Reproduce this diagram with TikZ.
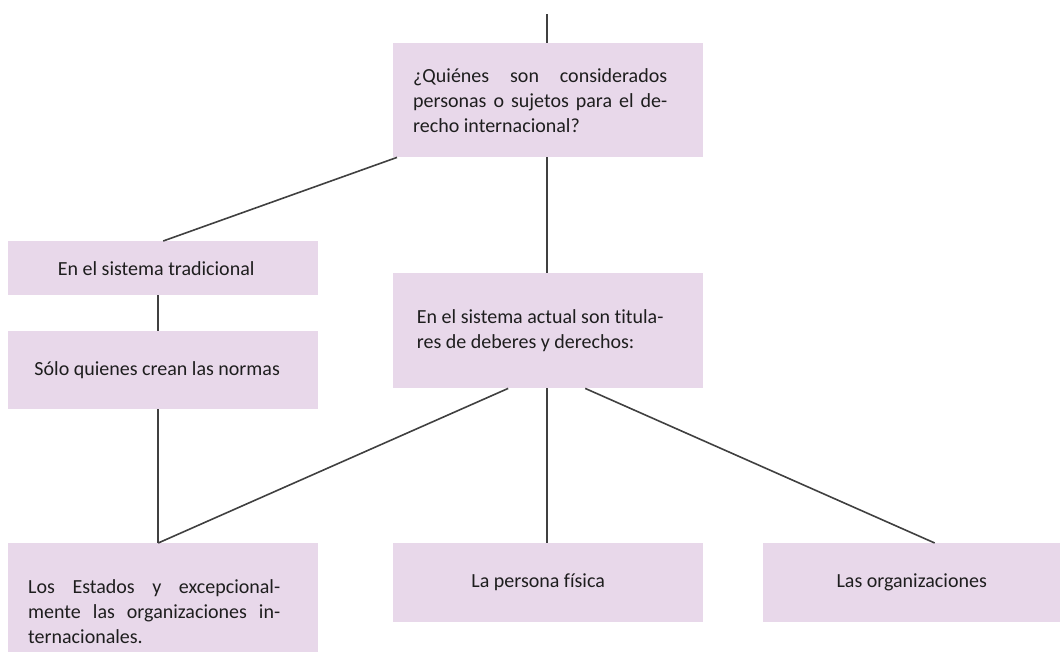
\documentclass[tikz,border=0pt]{standalone}
\usepackage{fontspec}
\setmainfont{Carlito}[Ligatures=NoCommon]
\definecolor{boxfill}{HTML}{E8D8EA}
\definecolor{linec}{HTML}{404040}
\definecolor{txtc}{HTML}{1E1E1E}
\newcommand{\jline}[1]{\hbox to \linewidth{#1}}
\begin{document}
\begin{tikzpicture}[x=1pt,y=-1pt,
  box/.style={fill=boxfill, draw=none, inner sep=0pt, text=txtc,
    font=\fontsize{20}{25}\selectfont, anchor=north west},
  conn/.style={draw=linec, line width=1.6pt}]
\useasboundingbox (0,0) rectangle (1060,651);
\clip (0,0) rectangle (1060,651);

\node[box, minimum width=310pt, minimum height=114pt] (top) at (393,43)
  {\parbox{254pt}{\jline{¿Quiénes\hfill son\hfill considerados}\jline{personas\hfill o\hfill sujetos\hfill para\hfill el\hfill de-}\hbox{recho internacional?}}\hspace*{16pt}};
\node[box, minimum width=310pt, minimum height=54pt] (trad) at (8,241)
  {En el sistema tradicional\hspace*{14pt}};
\node[box, minimum width=310pt, minimum height=78pt] (solo) at (8,331)
  {Sólo quienes crean las normas\hspace*{12pt}};
\node[box, minimum width=310pt, minimum height=115pt] (actual) at (393,273)
  {\parbox{254pt}{\hbox{En el sistema actual son titula-}\hbox{res de deberes y derechos:}}\hspace*{16pt}};
\node[box, minimum width=310pt, minimum height=136pt] (estados) at (8,543)
  {\parbox{252pt}{\jline{Los\hfill Estados\hfill y\hfill excepcional-}\jline{mente\hfill las\hfill organizaciones\hfill in-}\hbox{ternacionales.}}\hspace*{18pt}};
\node[box, minimum width=310pt, minimum height=79pt] (persona) at (393,543)
  {La persona física\hspace*{20pt}};
\node[box, minimum width=297pt, minimum height=79pt] (org) at (763,543)
  {Las organizaciones};

\coordinate (topc) at (547,14);
\draw[conn] (topc) -- (topc |- top.north);
\draw[conn] ([xshift=4pt]top.south west) -- (trad.north);
\draw[conn] ([xshift=-1pt]top.south) -- ([xshift=-1pt]actual.north);
\draw[conn] ([xshift=-5pt]trad.south) -- ([xshift=-5pt]solo.north);
\draw[conn] ([xshift=-5pt]solo.south) -- ([xshift=-5pt]estados.north);
\draw[conn] ([xshift=-40pt]actual.south) -- ([xshift=-5pt]estados.north);
\draw[conn] ([xshift=-1pt]actual.south) -- ([xshift=-1pt]persona.north);
\draw[conn] ([xshift=37pt]actual.south) -- ([xshift=23pt]org.north);
\end{tikzpicture}
\end{document}
